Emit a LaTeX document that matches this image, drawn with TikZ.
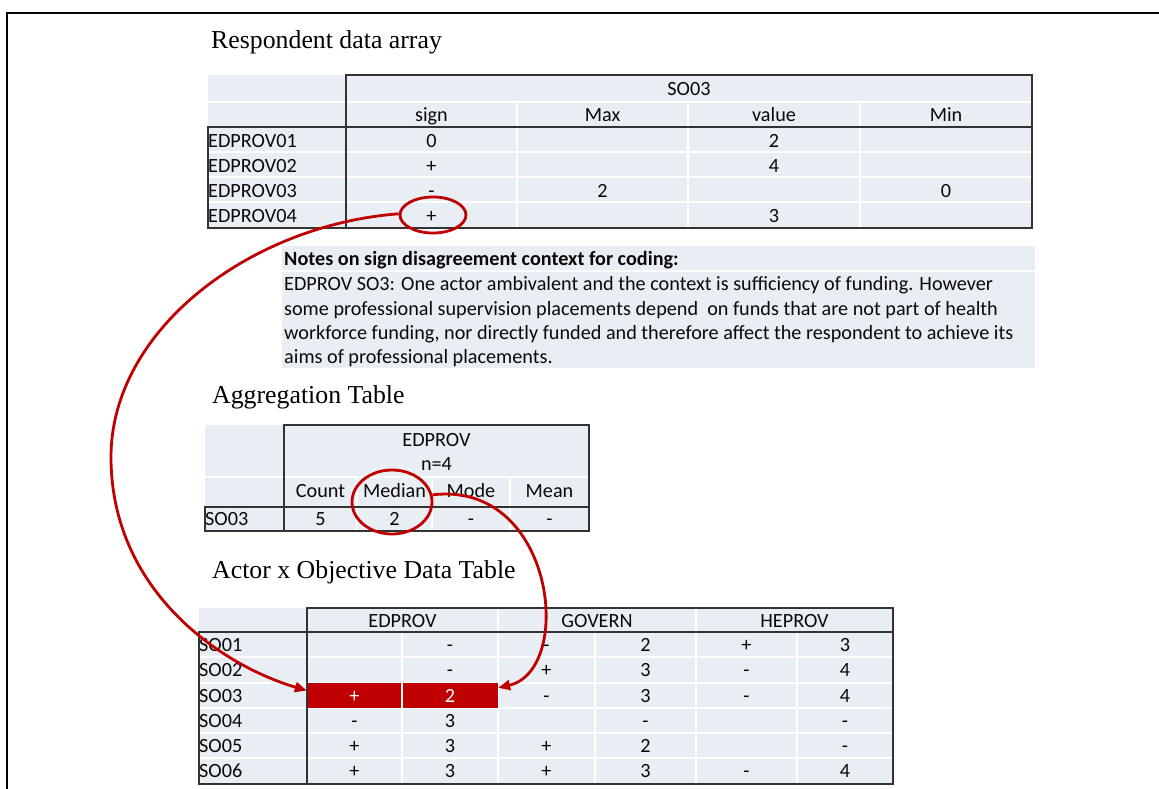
\documentclass[tikz,border=0pt]{standalone}
\usepackage{fontspec}
\setmainfont{Carlito}
\newfontfamily\ttlfont{Liberation Serif}
\usetikzlibrary{shapes.geometric,arrows.meta}
\definecolor{fillc}{HTML}{E9EDF4}
\definecolor{hlred}{HTML}{C00000}
\definecolor{txtc}{HTML}{0A0A0A}
\definecolor{framec}{HTML}{333333}
\begin{document}
\begin{tikzpicture}[x=1pt,y=-1pt,
  cell/.style={font=\fontsize{20.2}{24}\selectfont, text=txtc, inner sep=0pt, text height=13pt, text depth=0pt},
  rowlbl/.style={cell, anchor=west},
  notetxt/.style={cell, anchor=west},
  redcell/.style={cell, fill=hlred, text=white, minimum height=25pt},
  ttl/.style={font=\ttlfont\fontsize{25.8}{30}\selectfont, text=black, anchor=base west, inner sep=0pt},
  gridw/.style={draw=white, line width=1.3pt},
  frame/.style={draw=framec, line width=1.5pt},
  outer/.style={draw=black, line width=1.8pt},
  hl/.style={draw=hlred, line width=2.8pt, ellipse, inner sep=0pt},
  conn/.style={draw=hlred, line width=2.8pt, -{Triangle[length=12pt,width=10pt]}}
]
\useasboundingbox (0,0) rectangle (1159,789);
\fill[white] (0,0) rectangle (1159,789);
\draw[outer] (7,789) -- (7,13) -- (1159,13);

% ---------- titles
\node[ttl] (t1) at (211,49) {Respondent data array};
\node[ttl] (t2) at (212,403) {Aggregation Table};
\node[ttl] (t3) at (212,578) {Actor x Objective Data Table};

% ---------- respondent data array
\fill[fillc] (208,75) rectangle (1032,228);
\draw[gridw] (208,102) -- (1032,102) (208,152) -- (1032,152) (208,177) -- (1032,177) (208,202) -- (1032,202);
\draw[gridw] (517,102) -- (517,228) (688,102) -- (688,228) (860,102) -- (860,228);
\draw[frame] (346,228) -- (346,75) -- (1032,75) -- (1032,228) -- (208,228) -- (208,127) -- (1032,127);
\node[cell] (ra-h) at (689,89) {SO03};
\node[cell] (ra-sign) at (431.5,115) {sign};
\node[cell] (ra-max) at (602.5,115) {Max};
\node[cell] (ra-value) at (774,115) {value};
\node[cell] (ra-min) at (946,115) {Min};
\node[rowlbl] (ra-r1) at (208,141) {EDPROV01};
\node[rowlbl] (ra-r2) at (208,166) {EDPROV02};
\node[rowlbl] (ra-r3) at (208,191) {EDPROV03};
\node[rowlbl] (ra-r4) at (208,216) {EDPROV04};
\node[cell] (ra-r1s) at (431.5,141) {0};
\node[cell] (ra-r1v) at (774,141) {2};
\node[cell] (ra-r2s) at (431.5,166) {+};
\node[cell] (ra-r2v) at (774,166) {4};
\node[cell] (ra-r3s) at (431.5,191) {-};
\node[cell] (ra-r3x) at (602.5,191) {2};
\node[cell] (ra-r3n) at (946,191) {0};
\node[cell] (ra-r4s) at (431.5,216) {+};
\node[cell] (ra-r4v) at (774,216) {3};

% ---------- notes
\fill[fillc] (282,246) rectangle (1035,368);
\draw[gridw] (282,271) -- (1035,271);
\node[notetxt, font=\fontsize{20.2}{24}\selectfont\bfseries] (nt-h) at (284,259) {Notes on sign disagreement context for coding:};
\node[notetxt] (nt-1) at (284,284) {EDPROV SO3: One actor ambivalent and the context is sufficiency of funding. However};
\node[notetxt] (nt-2) at (284,309) {some professional supervision placements depend\ \ on funds that are not part of health};
\node[notetxt] (nt-3) at (284,333) {workforce funding, nor directly funded and therefore affect the respondent to achieve its};
\node[notetxt] (nt-4) at (284,357) {aims of professional placements.};

% ---------- aggregation table
\fill[fillc] (205,425) rectangle (589,531);
\draw[gridw] (205,477) -- (589,477);
\draw[gridw] (357,477) -- (357,531) (432,477) -- (432,531) (510,477) -- (510,531);
\draw[frame] (284,531) -- (284,425) -- (589,425) -- (589,531) -- (205,531) -- (205,507) -- (589,507);
\node[cell] (ag-h1) at (436.5,440) {EDPROV};
\node[cell] (ag-h2) at (436.5,464) {n=4};
\node[cell] (ag-count) at (320.5,491) {Count};
\node[cell] (ag-median) at (394.5,491) {Median};
\node[cell] (ag-mode) at (471,491) {Mode};
\node[cell] (ag-mean) at (549.5,491) {Mean};
\node[rowlbl] (ag-r) at (205,519) {SO03};
\node[cell] (ag-c) at (320.5,519) {5};
\node[cell] (ag-md) at (394.5,519) {2};
\node[cell] (ag-mo) at (471,519) {-};
\node[cell] (ag-me) at (549.5,519) {-};

% ---------- actor x objective table
\fill[fillc] (199,608) rectangle (893,784);
\draw[gridw] (199,657) -- (893,657) (199,683) -- (893,683) (199,708) -- (893,708) (199,733) -- (893,733) (199,758) -- (893,758);
\draw[gridw] (498,608) -- (498,784) (696,608) -- (696,784);
\draw[gridw] (402,632) -- (402,784) (595,632) -- (595,784) (797,632) -- (797,784);
\node[redcell, minimum width=95pt] (rc1) at (354.5,695.5) {+};
\node[redcell, minimum width=96pt] (rc2) at (450,695.5) {2};
\draw[gridw] (402,683) -- (402,708);
\draw[frame] (307,784) -- (307,608) -- (893,608) -- (893,784) -- (199,784) -- (199,632) -- (893,632);
\node[cell] (ao-h1) at (402.5,621) {EDPROV};
\node[cell] (ao-h2) at (597,621) {GOVERN};
\node[cell] (ao-h3) at (794.5,621) {HEPROV};
\node[rowlbl] (ao-r1) at (199,645) {SO01};
\node[rowlbl] (ao-r2) at (199,670) {SO02};
\node[rowlbl] (ao-r3) at (199,696) {SO03};
\node[rowlbl] (ao-r4) at (199,721) {SO04};
\node[rowlbl] (ao-r5) at (199,746) {SO05};
\node[rowlbl] (ao-r6) at (199,771) {SO06};
% SO01
\node[cell] (a12) at (450,645) {-};
\node[cell] (a13) at (546.5,645) {-};
\node[cell] (a14) at (645.5,645) {2};
\node[cell] (a15) at (746.5,645) {+};
\node[cell] (a16) at (845,645) {3};
% SO02
\node[cell] (a22) at (450,670) {-};
\node[cell] (a23) at (546.5,670) {+};
\node[cell] (a24) at (645.5,670) {3};
\node[cell] (a25) at (746.5,670) {-};
\node[cell] (a26) at (845,670) {4};
% SO03
\node[cell] (a33) at (546.5,696) {-};
\node[cell] (a34) at (645.5,696) {3};
\node[cell] (a35) at (746.5,696) {-};
\node[cell] (a36) at (845,696) {4};
% SO04
\node[cell] (a41) at (354.5,721) {-};
\node[cell] (a42) at (450,721) {3};
\node[cell] (a44) at (645.5,721) {-};
\node[cell] (a46) at (845,721) {-};
% SO05
\node[cell] (a51) at (354.5,746) {+};
\node[cell] (a52) at (450,746) {3};
\node[cell] (a53) at (546.5,746) {+};
\node[cell] (a54) at (645.5,746) {2};
\node[cell] (a56) at (845,746) {-};
% SO06
\node[cell] (a61) at (354.5,771) {+};
\node[cell] (a62) at (450,771) {3};
\node[cell] (a63) at (546.5,771) {+};
\node[cell] (a64) at (645.5,771) {3};
\node[cell] (a65) at (746.5,771) {-};
\node[cell] (a66) at (845,771) {4};

% ---------- highlights and connectors
\node[hl, minimum width=66pt, minimum height=36pt] (e1) at (433,215) {};
\node[hl, minimum width=80pt, minimum height=64pt] (e2) at (392,502) {};
\coordinate (m1) at (111,457);
\draw[conn] (e1.178) .. controls (250,225) and (111,330) .. (m1) .. controls (111,590) and (220,665) .. ([yshift=5pt]rc1.west);
\draw[conn] (e2.10) .. controls (555,480) and (575,670) .. ([yshift=-5pt]rc2.north east);
\end{tikzpicture}
\end{document}
